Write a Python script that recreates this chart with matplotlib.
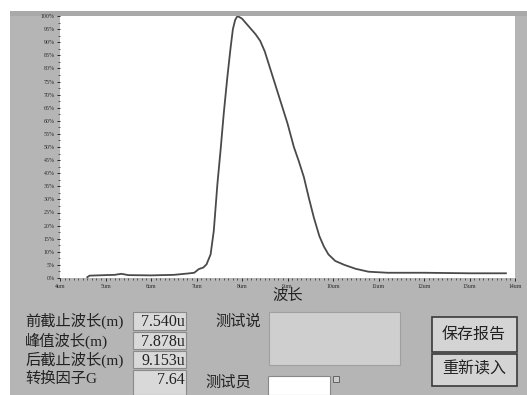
import matplotlib.pyplot as plt
from matplotlib.patches import Rectangle
from matplotlib.ticker import MultipleLocator

plt.rcParams['font.family'] = ['Liberation Serif', 'Noto Sans CJK SC']

# spectrum (wavelength in um, relative intensity in %)
wavelength = [4.6, 4.65, 5.0, 5.2, 5.35, 5.5, 6.0, 6.5, 6.8, 6.95, 7.05, 7.15, 7.22,
              7.31, 7.38, 7.46, 7.53, 7.6, 7.68, 7.75, 7.8, 7.85, 7.9, 8.0, 8.1, 8.2,
              8.3, 8.4, 8.5, 8.6, 8.7, 8.8, 8.9, 9.0, 9.14, 9.25, 9.36, 9.47, 9.58,
              9.7, 9.8, 9.9, 10.05, 10.25, 10.5, 10.78, 11.2, 12.0, 13.0, 13.8]
intensity = [0.3, 0.9, 1.1, 1.2, 1.6, 1.1, 1.0, 1.2, 1.7, 2.0, 3.4, 4.0, 5.2,
             9, 18, 36, 49, 63, 77, 88, 95, 98.5, 100, 99, 97, 95,
             93, 90.5, 86.5, 81, 75.5, 70, 64.5, 59, 50, 44.5, 38.5, 30.5, 23,
             16, 12, 9, 6.5, 5, 3.5, 2.4, 2.0, 2.0, 1.8, 1.8]

x_ticks = list(range(4, 15))
x_labels = [f"{v}um" for v in x_ticks]
y_ticks = list(range(0, 101, 5))
y_labels = [f"{v}%" for v in y_ticks]

field_names = ["前截止波长(m)", "峰值波长(m)", "后截止波长(m)", "转换因子G"]
field_values = ["7.540u", "7.878u", "9.153u", "7.64"]
buttons = ["保存报告", "重新读入"]

W, H = 527, 395
fig = plt.figure(figsize=(W / 100, H / 100), dpi=100)
fig.patch.set_facecolor("white")


def px_rect(x0, y0, x1, y1, z=1, **kw):
    # rectangle given in pixel coords, y measured from the top
    r = Rectangle((x0 / W, 1 - y1 / H), (x1 - x0) / W, (y1 - y0) / H,
                  transform=fig.transFigure, zorder=z, **kw)
    fig.patches.append(r)
    return r


# panel background (behind the axes)
px_rect(10, 11, 527, 395, z=-2, facecolor="#b5b5b5", edgecolor="none")
px_rect(10, 11, 527, 16, z=-1, facecolor="#a9a9a9", edgecolor="none")

# chart
ax = fig.add_axes([60 / W, 1 - 278 / H, (515 - 60) / W, (278 - 16) / H])
ax.set_zorder(0)
ax.set_facecolor("white")
ax.plot(wavelength, intensity, color="#4a4a4a", linewidth=1.3)
ax.set_xlim(4, 14)
ax.set_ylim(0, 100)
ax.set_xticks(x_ticks)
ax.set_xticklabels(x_labels)
ax.set_yticks(y_ticks)
ax.set_yticklabels(y_labels)
ax.xaxis.set_minor_locator(MultipleLocator(0.1))
ax.yaxis.set_minor_locator(MultipleLocator(2.5))
ax.tick_params(axis="both", which="major", direction="out", length=2.5, width=0.7,
               labelsize=4.2, pad=1.5, colors="#2a2a2a")
ax.tick_params(axis="both", which="minor", direction="out", length=1.5, width=0.6,
               colors="#444444")
for s in ax.spines.values():
    s.set_visible(False)
ax.set_xlabel("波长", fontsize=11, labelpad=0, color="#222222")

# labels and value boxes
rows_y = [(312, 330), (332, 349), (351, 368), (370, 395)]
for name, val, (y0, y1) in zip(field_names, field_values, rows_y):
    yc = y0 + 9
    fig.text(25 / W, 1 - yc / H, name, fontsize=11, va="center", ha="left",
             color="#222222")
    px_rect(133, y0, 186, y1, facecolor="#d9d9d9", edgecolor="#8a8a8a",
            linewidth=0.8)
    fig.text(185 / W, 1 - (y0 + 10) / H, val, fontsize=11.5, va="center",
             ha="right", color="#222222")

fig.text(215 / W, 1 - 322 / H, "测试说", fontsize=11, va="center", ha="left",
         color="#222222")
px_rect(269, 312, 400, 365, facecolor="#cfcfcf", edgecolor="#a0a0a0",
        linewidth=0.8)
fig.text(205 / W, 1 - 383 / H, "测试员", fontsize=11, va="center", ha="left",
         color="#222222")
px_rect(268, 376, 330, 395, facecolor="white", edgecolor="#888888",
        linewidth=0.8)
px_rect(333, 376, 339, 382, facecolor="#cccccc", edgecolor="#555555",
        linewidth=0.6)

# buttons
for label, (y0, y1) in zip(buttons, [(317, 352), (354, 386)]):
    px_rect(432, y0, 517, y1, facecolor="#d4d4d4", edgecolor="#3a3a3a",
            linewidth=1.2)
    fig.text(474 / W, 1 - (y0 + y1) / 2 / H, label, fontsize=11.5, va="center",
             ha="center", color="#222222")

plt.savefig("out.png", dpi=100)
